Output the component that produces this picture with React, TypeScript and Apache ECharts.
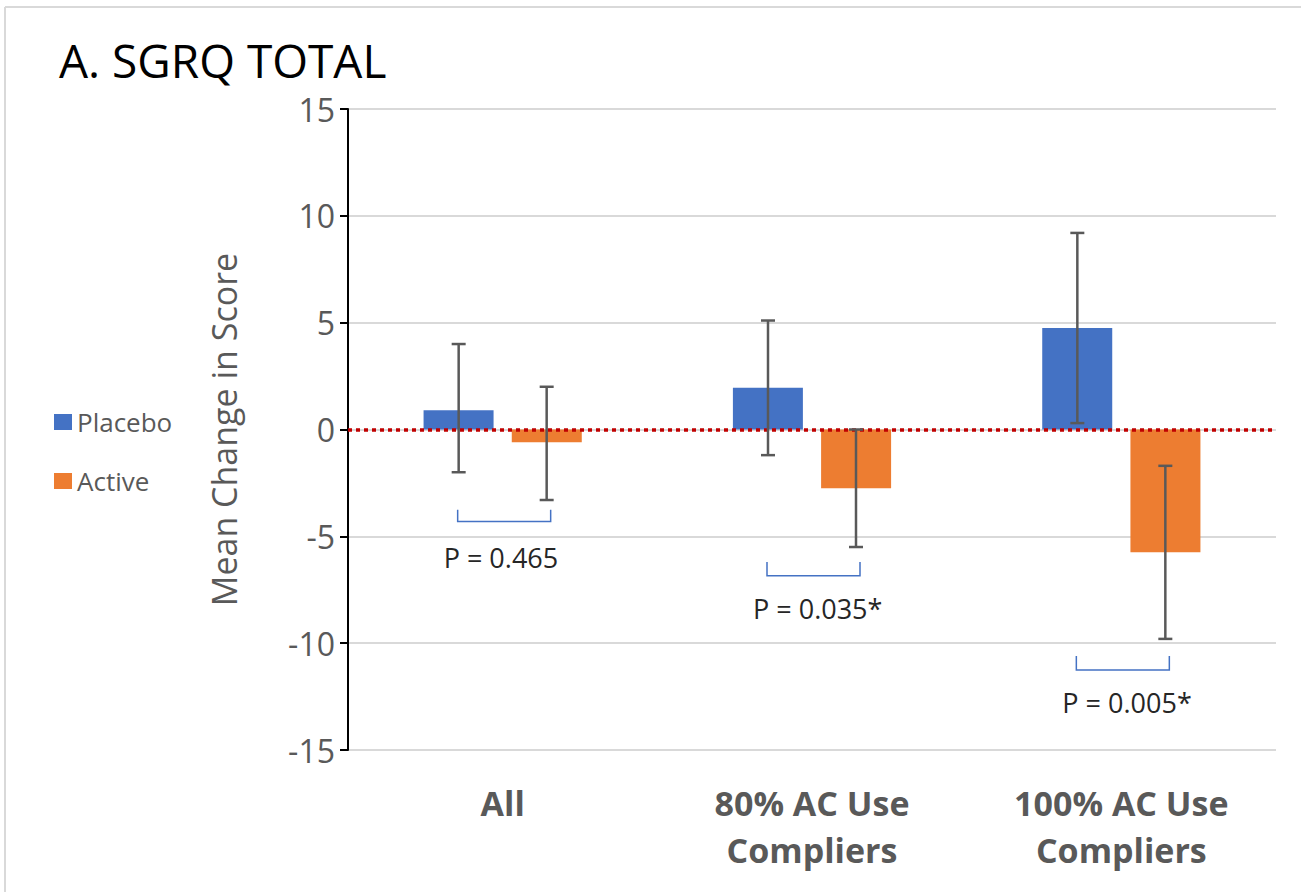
import React, { useEffect, useRef } from "react";
import * as echarts from "echarts";

const categories = ["All", "80% AC Use\nCompliers", "100% AC Use\nCompliers"];
const seriesNames = ["Placebo", "Active"];
const placebo = [0.9, 1.95, 4.75];
const active = [-0.6, -2.75, -5.75];
const placeboLow = [-2.0, -1.2, 0.3];
const placeboHigh = [4.0, 5.1, 9.2];
const activeLow = [-3.3, -5.5, -9.8];
const activeHigh = [2.0, 0.0, -1.7];
const pLabels = ["P = 0.465", "P = 0.035*", "P = 0.005*"];
const bracketTop = [-3.75, -6.2, -10.6];
const bracketBottom = [-4.3, -6.85, -11.25];
const pLabelY = [-6.0, -8.4, -12.8];
const yMin = -15;
const yMax = 15;
const yStep = 5;

const FONT = "Open Sans";
const BAR_W = 70;
const HALF = 44; // half distance between paired bar centers

function errorSeries(name: string, lows: number[], highs: number[], offset: number) {
  return {
    type: "custom",
    name,
    z: 5,
    silent: true,
    data: lows.map((lo, i) => [i, lo, highs[i]]),
    encode: { x: 0, y: [1, 2] },
    renderItem: (params: any, api: any) => {
      const i = api.value(0);
      const lo = api.coord([i, api.value(1)]);
      const hi = api.coord([i, api.value(2)]);
      const x = lo[0] + offset;
      const cap = 7;
      const style = { stroke: "#595959", lineWidth: 2.5, fill: null };
      return {
        type: "group",
        children: [
          { type: "line", shape: { x1: x, y1: lo[1], x2: x, y2: hi[1] }, style },
          { type: "line", shape: { x1: x - cap, y1: lo[1], x2: x + cap, y2: lo[1] }, style },
          { type: "line", shape: { x1: x - cap, y1: hi[1], x2: x + cap, y2: hi[1] }, style },
        ],
      };
    },
  };
}

export default function App() {
  const ref = useRef<HTMLDivElement>(null);
  useEffect(() => {
    if (!ref.current) return;
    const chart = echarts.init(ref.current, null, { renderer: "svg" });
    const option: any = {
      animation: false,
      textStyle: { fontFamily: FONT },
      title: {
        text: "A. SGRQ TOTAL",
        left: 59,
        top: 40,
        padding: 0,
        textStyle: { fontFamily: FONT, fontSize: 46, fontWeight: "normal", color: "#000", lineHeight: 40 },
      },
      legend: {
        data: seriesNames,
        orient: "vertical",
        left: 49,
        top: 404,
        itemWidth: 18,
        itemHeight: 16,
        itemGap: 33,
        icon: "rect",
        textStyle: { fontFamily: FONT, fontSize: 26, color: "#595959", lineHeight: 24 },
      },
      grid: { left: 348, right: 25, top: 109, bottom: 142, containLabel: false },
      xAxis: {
        type: "category",
        data: categories,
        axisLine: { show: false, onZero: false },
        axisTick: { show: false },
        axisLabel: {
          fontFamily: FONT,
          fontSize: 34,
          fontWeight: "bold",
          color: "#595959",
          lineHeight: 47,
          margin: 29,
        },
      },
      yAxis: {
        type: "value",
        min: yMin,
        max: yMax,
        interval: yStep,
        name: "Mean Change in Score",
        nameLocation: "middle",
        nameGap: 107,
        nameTextStyle: { fontFamily: FONT, fontSize: 34, color: "#595959" },
        axisLine: { show: true, lineStyle: { color: "#000", width: 2 } },
        axisTick: { show: true, length: 8, lineStyle: { color: "#000", width: 2 } },
        axisLabel: { fontFamily: FONT, fontSize: 32, color: "#595959", margin: 13, lineHeight: 28 },
        splitLine: { lineStyle: { color: "#D9D9D9", width: 2 } },
      },
      graphic: [
        { type: "line", shape: { x1: 5, y1: 7, x2: 1301, y2: 7 }, style: { stroke: "#D9D9D9", lineWidth: 2 } },
        { type: "line", shape: { x1: 5, y1: 7, x2: 5, y2: 892 }, style: { stroke: "#D9D9D9", lineWidth: 2 } },
      ],
      series: [
        {
          type: "bar",
          name: seriesNames[0],
          data: placebo,
          barWidth: BAR_W,
          barGap: "26%",
          itemStyle: { color: "#4472C4" },
        },
        {
          type: "bar",
          name: seriesNames[1],
          data: active,
          barWidth: BAR_W,
          barGap: "26%",
          itemStyle: { color: "#ED7D31" },
        },
        errorSeries("placeboErr", placeboLow, placeboHigh, -HALF),
        errorSeries("activeErr", activeLow, activeHigh, HALF),
        {
          type: "custom",
          name: "brackets",
          z: 6,
          silent: true,
          data: bracketTop.map((t, i) => [i, t, bracketBottom[i], pLabelY[i]]),
          encode: { x: 0, y: [1, 2, 3] },
          renderItem: (params: any, api: any) => {
            const i = api.value(0);
            const top = api.coord([i, api.value(1)]);
            const bot = api.coord([i, api.value(2)]);
            const txt = api.coord([i, api.value(3)]);
            const xl = top[0] - 45;
            const xr = top[0] + 48;
            return {
              type: "group",
              children: [
                {
                  type: "polyline",
                  shape: { points: [[xl, top[1]], [xl, bot[1]], [xr, bot[1]], [xr, top[1]]] },
                  style: { stroke: "#4472C4", lineWidth: 1.5, fill: null },
                },
                {
                  type: "text",
                  x: txt[0] - 59,
                  y: txt[1],
                  style: {
                    text: pLabels[i],
                    fontFamily: FONT,
                    fontSize: 27,
                    fill: "#262626",
                    textAlign: "left",
                    textVerticalAlign: "middle",
                  },
                },
              ],
            };
          },
          markLine: {
            silent: true,
            symbol: "none",
            label: { show: false },
            lineStyle: { color: "#C00000", type: [4, 4], width: 3.5 },
            data: [{ yAxis: 0 }],
          },
        },
      ],
    };
    chart.setOption(option);
    return () => chart.dispose();
  }, []);
  return (
    <div
      ref={ref}
      style={{ position: "absolute", left: 0, top: 0, width: 1301, height: 892, background: "#fff" }}
    />
  );
}
